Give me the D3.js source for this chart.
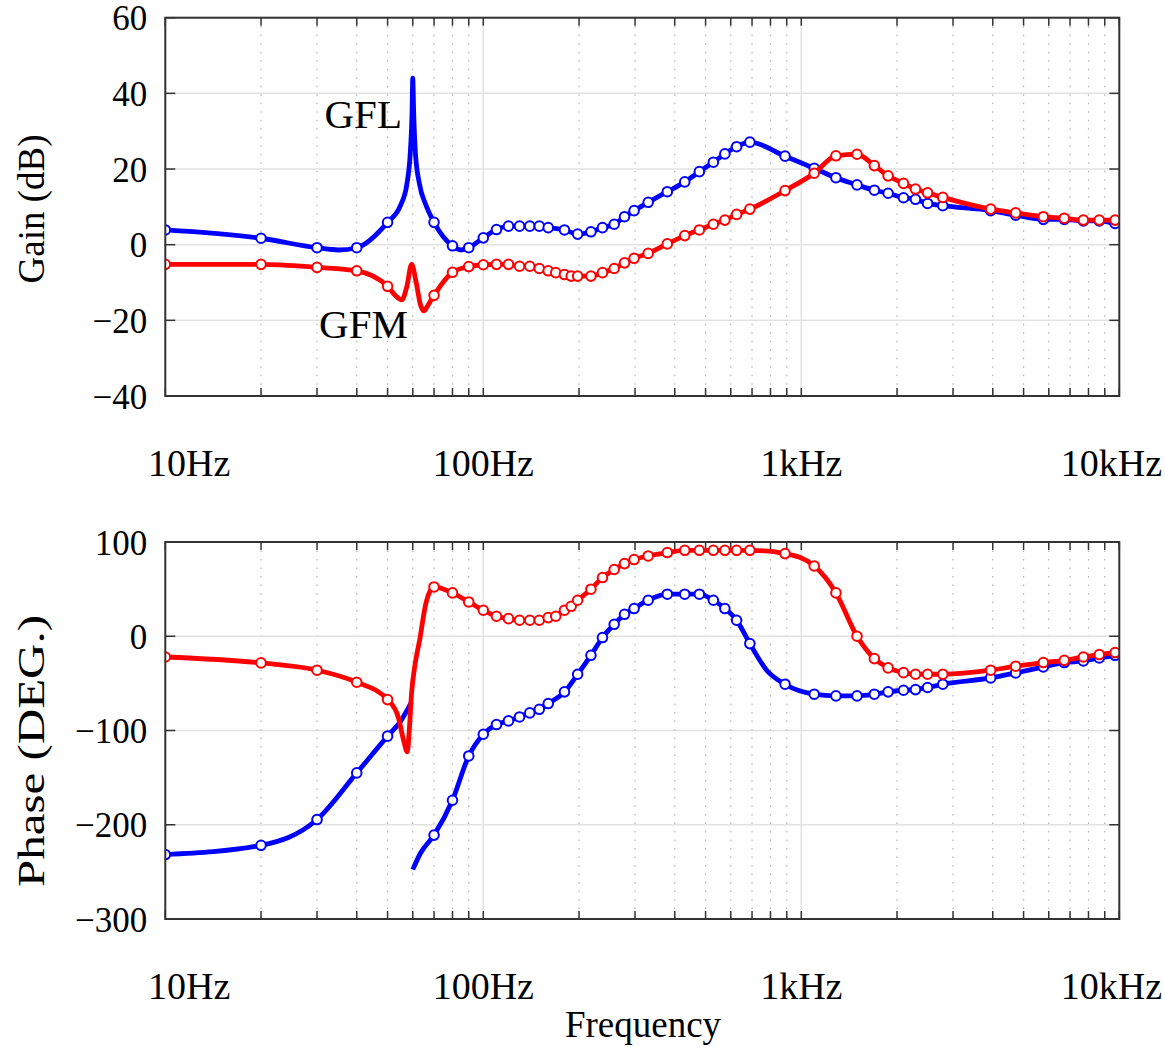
<!DOCTYPE html>
<html><head><meta charset="utf-8">
<script src="https://cdn.jsdelivr.net/npm/d3@7"></script>
<style>
body{margin:0;background:#fff}
text{font-family:"Liberation Serif","Times New Roman",serif;fill:#000}
</style>
</head><body><svg id="chart" width="1165" height="1047"></svg>
<script>
// ---------- data (frequency Hz, value, marker flag) ----------
const xTickValues = [10, 100, 1000, 10000];
const xTickLabels = ["10Hz", "100Hz", "1kHz", "10kHz"];
const gainTicks = [-40, -20, 0, 20, 40, 60];
const phaseTicks = [-300, -200, -100, 0, 100];
const seriesNames = ["GFL", "GFM"];
const seriesColors = ["#0000ff", "#ff0000"];

const gflGain = [
 [10,3.9,1],[20,1.7,1],[30,-0.8,1],[35,-1.4,0],[40,-0.8,1],[50,5.9,1],[55,10.5,0],[57.5,16,0],
 [59,25,0],[59.7,35,0],[60,44,0],[60.4,35,0],[61.2,24,0],[63,16,0],[66,10.5,0],[70,5.9,1],
 [80,-0.3,1],[85,-1.4,0],[90,-0.8,1],[100,1.8,1],[110,4.0,1],[120,4.9,1],[130,4.9,1],[140,4.9,1],
 [150,4.9,1],[160,4.5,1],[180,3.9,1],[198,2.8,1],[218,3.4,1],[237,4.5,1],[258,5.4,1],[278,7.4,1],
 [298,9.0,1],[330,11.2,1],[379,14.0,1],[430,16.6,1],[478,19.3,1],[529,21.8,1],[575,24.0,1],
 [626,25.9,1],[689,27.1,1],[889,23.4,1],[1098,20.2,1],[1285,17.7,1],[1497,15.8,1],[1697,14.4,1],
 [1875,13.6,1],[2096,12.4,1],[2286,12.0,1],[2495,10.9,1],[2786,10.3,1],[3940,9.0,1],[4721,7.8,1],
 [5768,6.7,1],[6714,6.7,1],[7710,6.3,1],[8650,6.3,1],[9700,5.6,1],[10000,5.5,0]
];
const gfmGain = [
 [10,-5.2,1],[20,-5.2,1],[30,-6.0,1],[40,-6.9,1],[50,-11.0,1],[53,-13.5,0],[55.4,-14.6,0],
 [57.5,-11,0],[59.5,-5.2,0],[61.5,-10,0],[63.5,-16,0],[65.1,-17.5,0],[67,-16,0],[70,-13.4,1],
 [80,-7.3,1],[90,-5.8,1],[100,-5.3,1],[110,-5.2,1],[120,-5.2,1],[130,-5.7,1],[140,-5.7,1],
 [150,-6.3,1],[160,-6.9,1],[169,-7.4,1],[180,-7.9,1],[189,-8.3,1],[198,-8.3,1],[218,-8.3,1],
 [237,-7.4,1],[258,-6.3,1],[278,-4.8,1],[298,-3.6,1],[330,-2.3,1],[379,0.2,1],[430,2.4,1],
 [478,3.9,1],[529,5.4,1],[575,6.5,1],[626,8.0,1],[689,9.4,1],[889,14.3,1],[1098,18.9,1],
 [1285,23.5,1],[1497,23.9,1],[1697,20.9,1],[1875,18.2,1],[2096,16.2,1],[2286,14.7,1],
 [2495,13.7,1],[2786,12.5,1],[3940,9.4,1],[4721,8.4,1],[5768,7.4,1],[6714,7.0,1],[7710,6.5,1],
 [8650,6.5,1],[9700,6.5,1]
];
const gflPhase = [
 [10,-231.6,1],[20,-221.8,1],[30,-194.5,1],[40,-145,1],[50,-106,1],[55,-90,0],[59.5,-69.7,0],
 [59.8,null,0],
 [60,-247.6,0],[63.5,-230,0],[70,-211,1],[80,-174,1],[90,-127,1],[100,-104,1],[110,-93.7,1],
 [120,-89.8,1],[130,-85.6,1],[140,-81.3,1],[150,-77.5,1],[160,-71.4,1],[180,-59,1],[198,-40.3,1],
 [218,-20.2,1],[237,-1.4,1],[258,12.7,1],[278,23.3,1],[298,29.4,1],[330,38.2,1],[379,44.6,1],
 [430,44.6,1],[478,44.6,1],[529,38.2,1],[575,29.4,1],[626,17,1],[689,-7.8,1],[778,-36,0],
 [889,-50.9,1],[1098,-61.5,1],[1285,-63.3,1],[1497,-63.3,1],[1697,-61.5,1],[1875,-59,1],
 [2096,-57.3,1],[2286,-56.6,1],[2495,-54.4,1],[2786,-50.9,1],[3940,-44.2,1],[4721,-38.9,1],
 [5768,-32.6,1],[6714,-27.9,1],[7710,-26.2,1],[8650,-23,1],[9700,-20.2,1],[10000,-19.5,0]
];
const gfmPhase = [
 [10,-22,1],[20,-28.3,1],[30,-36,1],[40,-48.8,1],[50,-67.2,1],[54,-85.6,0],[56.1,-110,0],
 [57.7,-122.7,0],[58.5,-100,0],[59.5,-60,0],[61,-30,0],[63,-5,0],[66,35,0],[68,48,0],
 [70,52.3,1],[80,46,1],[90,36.4,1],[100,27.6,1],[110,21.2,1],[120,18.7,1],[130,17,1],[140,17,1],
 [150,17,1],[160,19.8,1],[169,21.2,1],[180,27.6,1],[189,31.8,1],[198,38.2,1],[218,49.9,1],
 [237,62.3,1],[258,70.8,1],[278,77.1,1],[298,81.4,1],[330,85.2,1],[379,88.8,1],[430,91.2,1],
 [478,91.2,1],[529,91.2,1],[575,91.2,1],[626,91.2,1],[689,91.2,1],[889,87.7,1],[1098,74.6,1],
 [1285,46,1],[1497,0,1],[1697,-23.7,1],[1875,-33.6,1],[2096,-38.6,1],[2286,-40.3,1],
 [2495,-40.3,1],[2786,-40.3,1],[3940,-36,1],[4721,-31.8,1],[5768,-27.9,1],[6714,-25.5,1],
 [7710,-22,1],[8650,-19.4,1],[9700,-17.3,1]
];
// annotation anchors (data coordinates: Hz, dB)
const annotations = [
 {text: "GFL", f: 55.5, v: 30.8, anchor: "end"},
 {text: "GFM", f: 42, v: -24.8, anchor: "middle"}
];

// ---------- drawing ----------
const svg = d3.select("#chart");
const left = 165.3, right = 1119.3;
const x = d3.scaleLog().domain([10, 10000]).range([left, right]);
const allTicks = x.ticks();
const minorTicks = allTicks.filter(t => !xTickValues.includes(t));

const panels = [
 {y: d3.scaleLinear().domain([-40, 60]).range([396, 17.7]), ticks: gainTicks, title: "Gain (dB)",
  series: [gflGain, gfmGain], titleY: 209, titleSize: 37, titleLen: null, notes: annotations},
 {y: d3.scaleLinear().domain([-300, 100]).range([919, 542]), ticks: phaseTicks, title: "Phase (DEG.)",
  series: [gflPhase, gfmPhase], titleY: 751, titleSize: 38, titleLen: 272, notes: []}
];

panels.forEach((p, pi) => {
  const g = svg.append("g");
  const [yb, yt] = p.y.range();
  const clipId = "clip" + pi;
  svg.append("clipPath").attr("id", clipId).append("rect")
    .attr("x", left).attr("y", yt).attr("width", right - left).attr("height", yb - yt);

  // minor dotted vertical grid
  g.selectAll(".mg").data(minorTicks).join("line")
    .attr("x1", d => x(d)).attr("x2", d => x(d)).attr("y1", yt).attr("y2", yb)
    .attr("stroke", "#b0b0b0").attr("stroke-width", 1.2).attr("stroke-dasharray", "1.5,7");
  // major grids
  g.selectAll(".vg").data(xTickValues).join("line")
    .attr("x1", d => x(d)).attr("x2", d => x(d)).attr("y1", yt).attr("y2", yb)
    .attr("stroke", "#e2e2e2").attr("stroke-width", 1.5);
  g.selectAll(".hg").data(p.ticks).join("line")
    .attr("x1", left).attr("x2", right).attr("y1", d => p.y(d)).attr("y2", d => p.y(d))
    .attr("stroke", "#e2e2e2").attr("stroke-width", 1.5);

  // ticks (inward)
  const tk = g.append("g").attr("stroke", "#333").attr("stroke-width", 1.5);
  allTicks.forEach(t => {
    tk.append("line").attr("x1", x(t)).attr("x2", x(t)).attr("y1", yb).attr("y2", yb - 8);
    tk.append("line").attr("x1", x(t)).attr("x2", x(t)).attr("y1", yt).attr("y2", yt + 8);
  });
  p.ticks.forEach(t => {
    tk.append("line").attr("x1", left).attr("x2", left + 10).attr("y1", p.y(t)).attr("y2", p.y(t));
    tk.append("line").attr("x1", right).attr("x2", right - 10).attr("y1", p.y(t)).attr("y2", p.y(t));
  });

  // curves
  const line = d3.line().defined(d => d[1] !== null)
    .x(d => x(d[0])).y(d => p.y(d[1])).curve(d3.curveMonotoneX);
  const plot = g.append("g").attr("clip-path", `url(#${clipId})`);
  p.series.forEach((s, si) => {
    plot.append("path").datum(s).attr("d", line).attr("fill", "none")
      .attr("stroke", seriesColors[si]).attr("stroke-width", 4.8)
      .attr("stroke-linejoin", "round").attr("stroke-linecap", "butt");
    plot.selectAll(".m" + si).data(s.filter(d => d[2] === 1 && d[1] !== null)).join("circle")
      .attr("cx", d => x(d[0])).attr("cy", d => p.y(d[1])).attr("r", 4.8)
      .attr("fill", "#fff").attr("stroke", seriesColors[si]).attr("stroke-width", 2);
  });

  // frame
  g.append("rect").attr("x", left).attr("y", yt).attr("width", right - left).attr("height", yb - yt)
    .attr("fill", "none").attr("stroke", "#333").attr("stroke-width", 2);

  // y tick labels
  g.selectAll(".yl").data(p.ticks).join("text")
    .attr("x", left - 18).attr("y", d => p.y(d)).attr("dy", "0.36em")
    .attr("text-anchor", "end").attr("font-size", 35)
    .text(d => d3.format("d")(d));

  // x tick labels (kept inside the picture)
  xTickValues.forEach((v, i) => {
    const t = g.append("text").attr("y", yb + 80).attr("font-size", 38)
      .attr("text-anchor", "middle").text(xTickLabels[i]);
    const w = t.node().getComputedTextLength();
    const cx = Math.min(Math.max(x(v), 148 + w / 2), 1162 - w / 2);
    t.attr("x", cx);
  });

  // y title
  const tt = g.append("text").attr("transform", `translate(44,${p.titleY}) rotate(-90)`)
    .attr("text-anchor", "middle").attr("font-size", p.titleSize).text(p.title);
  if (p.titleLen) tt.attr("textLength", p.titleLen).attr("lengthAdjust", "spacingAndGlyphs");

  // annotations
  p.notes.forEach(n => {
    g.append("text").attr("x", x(n.f)).attr("y", p.y(n.v)).attr("text-anchor", n.anchor)
      .attr("font-size", 41).text(n.text);
  });
});

svg.append("text").attr("x", 643).attr("y", 1037).attr("text-anchor", "middle")
  .attr("font-size", 37).text("Frequency");
</script>
</body></html>
